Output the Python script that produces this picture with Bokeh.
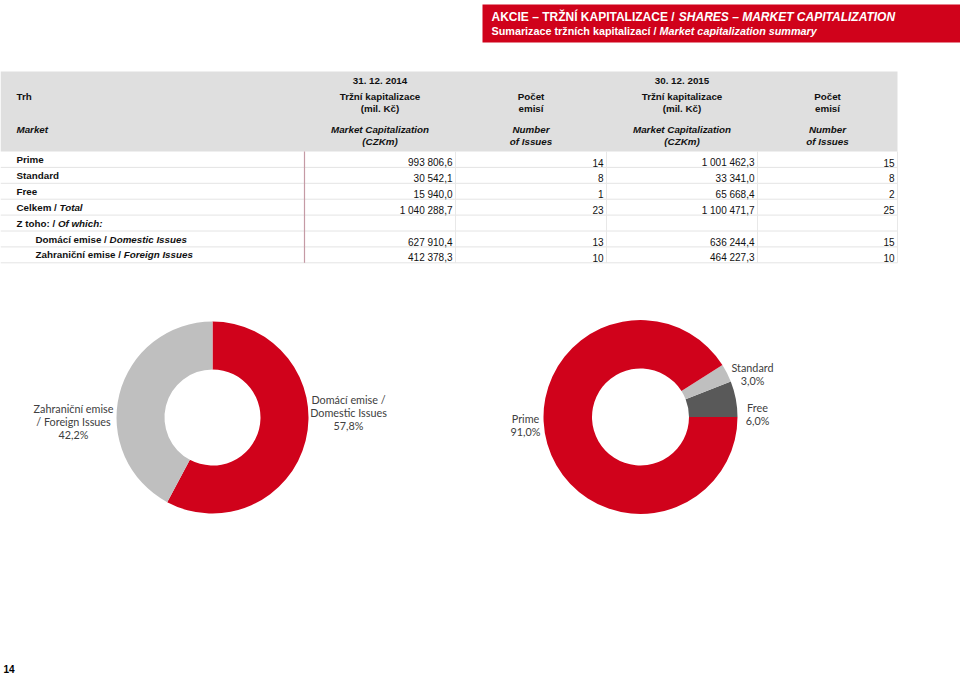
import math
import unicodedata
from bokeh.plotting import figure
from bokeh.models import Range1d, ColumnDataSource
from bokeh.core.properties import value
from bokeh.embed import file_html
from bokeh.resources import INLINE

# ---------------- data ----------------
title_main = "AKCIE – TRŽNÍ KAPITALIZACE / "
title_it = "SHARES – MARKET CAPITALIZATION"
sub_main = "Sumarizace tržních kapitalizací / "
sub_it = "Market capitalization summary"

dates = ["31. 12. 2014", "30. 12. 2015"]
hdr_cap_cz = ["Tržní kapitalizace", "(mil. Kč)"]
hdr_num_cz = ["Počet", "emisí"]
hdr_cap_en = ["Market Capitalization", "(CZKm)"]
hdr_num_en = ["Number", "of Issues"]
hdr_market_cz = "Trh"
hdr_market_en = "Market"

row_main = ["Prime", "Standard", "Free", "Celkem / ", "Z toho: / ",
            "Domácí emise / ", "Zahraniční emise / "]
row_it = ["", "", "", "Total", "Of which:", "Domestic Issues", "Foreign Issues"]
row_indent = [0, 0, 0, 0, 0, 1, 1]

cap_2014 = [993806.6, 30542.1, 15940.0, 1040288.7, None, 627910.4, 412378.3]
num_2014 = [14, 8, 1, 23, None, 13, 10]
cap_2015 = [1001462.3, 33341.0, 65668.4, 1100471.7, None, 636244.4, 464227.3]
num_2015 = [15, 8, 2, 25, None, 15, 10]

donut1_names = ["Domácí emise /\nDomestic Issues", "Zahraniční emise\n/ Foreign Issues"]
donut1_values = [636244.4, 464227.3]
donut2_names = ["Free", "Standard", "Prime"]
donut2_values = [65668.4, 33341.0, 1001462.3]

page_no = "14"

# ---------------- style ----------------
RED = "#d0021b"
LGRAY = "#bfbfbf"
DGRAY = "#595959"
BAND = "#dfdfdf"
FONT = value("Liberation Sans")
DFONT = value("Lato")

# Arial/Liberation Sans Bold advance widths (1/1000 em)
_AW = {" ": 278, "/": 278, ":": 333, "–": 556, ".": 278, ",": 278,
       "A": 722, "C": 722, "D": 722, "E": 667, "I": 278, "K": 722, "L": 611,
       "N": 722, "P": 667, "R": 722, "S": 667, "T": 611, "Z": 611, "H": 722,
       "M": 833, "O": 778, "F": 611, "U": 722, "G": 778, "B": 722,
       "a": 556, "c": 556, "e": 556, "h": 611, "i": 278, "k": 556, "l": 278,
       "m": 889, "n": 611, "o": 611, "p": 611, "r": 389, "s": 556, "t": 333,
       "u": 611, "z": 500, "y": 556, "w": 778, "d": 611, "b": 611, "g": 611}


def tw(s, size):
    tot = 0
    for ch in s:
        base = unicodedata.normalize("NFD", ch)[0]
        tot += _AW.get(base, 556)
    return tot * size / 1000.0


def fmt_cap(v):
    if v is None:
        return ""
    return f"{v:,.1f}".replace(",", " ").replace(".", ",")


def fmt_num(v):
    return "" if v is None else str(v)


def Y(v):
    return [-a for a in v] if isinstance(v, list) else -v


W, H = 960, 676
p = figure(width=W, height=H, x_range=Range1d(0, W), y_range=Range1d(-H, 0),
           output_backend="svg", toolbar_location=None, x_axis_type=None, y_axis_type=None,
           min_border=0, outline_line_color=None, background_fill_color="white")
p.xgrid.visible = False
p.ygrid.visible = False

# ---------------- red header ----------------
p.quad(left=[482], right=[962], top=Y([4]), bottom=Y([42]), fill_color=RED, line_color=None)
tx = 491
ts = 12
p.text(x=[tx], y=Y([16]), text=[title_main], text_font=FONT, text_font_size=value(f"{ts}px"),
       text_font_style="bold", text_color="white", text_baseline="middle", text_align="left")
p.text(x=[tx + tw(title_main, ts)], y=Y([16]), text=[title_it], text_font=FONT,
       text_font_size=value(f"{ts}px"), text_font_style="bold italic", text_color="white",
       text_baseline="middle", text_align="left")
ss = 10.8
p.text(x=[tx], y=Y([30]), text=[sub_main], text_font=FONT, text_font_size=value(f"{ss}px"),
       text_font_style="bold", text_color="white", text_baseline="middle", text_align="left")
p.text(x=[tx + tw(sub_main, ss)], y=Y([30]), text=[sub_it], text_font=FONT,
       text_font_size=value(f"{ss}px"), text_font_style="bold italic", text_color="white",
       text_baseline="middle", text_align="left")

# ---------------- table ----------------
col_edges = [304, 455, 606, 757, 897]
band_top, band_bot = 71, 151
p.quad(left=[0], right=[col_edges[-1]], top=Y([band_top]), bottom=Y([band_bot]),
       fill_color=BAND, line_color=None)

centers = [(col_edges[i] + col_edges[i + 1]) / 2 for i in range(4)]
hs = 9.8
hdr_x, hdr_y, hdr_t = [], [], []
for k, d in enumerate(dates):
    cc = centers[2 * k]
    cn = centers[2 * k + 1]
    hdr_x += [cc, cc, cc, cn, cn]
    hdr_y += [80, 96, 108, 96, 108]
    hdr_t += [d, hdr_cap_cz[0], hdr_cap_cz[1], hdr_num_cz[0], hdr_num_cz[1]]
p.text(x=hdr_x, y=Y(hdr_y), text=hdr_t, text_font=FONT, text_font_size=value(f"{hs}px"),
       text_font_style="bold", text_color="#111111", text_align="center", text_baseline="middle")
en_x, en_y, en_t = [], [], []
for k in range(2):
    cc = centers[2 * k]
    cn = centers[2 * k + 1]
    en_x += [cc, cc, cn, cn]
    en_y += [129, 141, 129, 141]
    en_t += [hdr_cap_en[0], hdr_cap_en[1], hdr_num_en[0], hdr_num_en[1]]
p.text(x=en_x, y=Y(en_y), text=en_t, text_font=FONT, text_font_size=value(f"{hs}px"),
       text_font_style="bold italic", text_color="#111111", text_align="center",
       text_baseline="middle")
p.text(x=[16], y=Y([96]), text=[hdr_market_cz], text_font=FONT, text_font_size=value(f"{hs}px"),
       text_font_style="bold", text_color="#111111", text_baseline="middle")
p.text(x=[16], y=Y([129]), text=[hdr_market_en], text_font=FONT, text_font_size=value(f"{hs}px"),
       text_font_style="bold italic", text_color="#111111", text_baseline="middle")

# row grid
n = len(row_main)
row_h = 15.9
row_tops = [band_bot + row_h * i for i in range(n + 1)]
p.segment(x0=[0] * n, x1=[col_edges[-1]] * n, y0=Y(row_tops[1:]), y1=Y(row_tops[1:]),
          line_color="#e4e4e4", line_width=1)
p.segment(x0=col_edges[1:], x1=col_edges[1:], y0=[-band_bot] * 4, y1=[-row_tops[-1]] * 4,
          line_color="#e8e8e8", line_width=1)
p.segment(x0=[col_edges[0]], x1=[col_edges[0]], y0=[-band_bot], y1=[-row_tops[-1]],
          line_color="#c59aa5", line_width=1.2)

ls = 9.8
lab_x = [16 + 19 * ind for ind in row_indent]
lab_y = [row_tops[i] + 8 for i in range(n)]
p.text(x=lab_x, y=Y(lab_y), text=row_main, text_font=FONT, text_font_size=value(f"{ls}px"),
       text_font_style="bold", text_color="#111111", text_baseline="middle")
it_x = [lab_x[i] + tw(row_main[i], ls) for i in range(n)]
p.text(x=it_x, y=Y(lab_y), text=row_it, text_font=FONT, text_font_size=value(f"{ls}px"),
       text_font_style="bold italic", text_color="#111111", text_baseline="middle")

vs = 10
val_y = [row_tops[i] + 11 for i in range(n)]
cols = [[fmt_cap(v) for v in cap_2014], [fmt_num(v) for v in num_2014],
        [fmt_cap(v) for v in cap_2015], [fmt_num(v) for v in num_2015]]
for c in range(4):
    src = ColumnDataSource(dict(x=[col_edges[c + 1] - 3] * n, y=Y(val_y), t=cols[c]))
    p.text(x="x", y="y", text="t", source=src, text_font=FONT, text_font_size=value(f"{vs}px"),
           text_color="#111111", text_align="right", text_baseline="middle")


# ---------------- donuts ----------------
def pct(v, tot):
    return f"{100 * v / tot:.1f}".replace(".", ",") + "%"


# donut 1: starts at 12 o'clock, clockwise
t1 = sum(donut1_values)
cx1, cy1, r1o, r1i = 212, 417, 96, 48
starts, ends = [], []
a = math.pi / 2
for v in donut1_values:
    sweep = 2 * math.pi * v / t1
    starts.append(a - sweep)
    ends.append(a)
    a -= sweep
p.annular_wedge(x=[cx1] * 2, y=[-cy1] * 2, inner_radius=r1i, outer_radius=r1o,
                start_angle=starts, end_angle=ends, fill_color=[RED, LGRAY], line_color=None)

# donut 2: starts at 3 o'clock, anticlockwise
t2 = sum(donut2_values)
cx2, cy2, r2o, r2i = 640, 416.5, 97, 48.5
starts, ends = [], []
a = 0.0
for v in donut2_values:
    sweep = 2 * math.pi * v / t2
    starts.append(a)
    ends.append(a + sweep)
    a += sweep
p.annular_wedge(x=[cx2] * 3, y=[-cy2] * 3, inner_radius=r2i, outer_radius=r2o,
                start_angle=starts, end_angle=ends, fill_color=[DGRAY, LGRAY, RED],
                line_color=None)

# donut labels
dl_x, dl_y, dl_t = [], [], []
d1_pos = [(348, 399), (73, 408)]
for (nm, v), (x0, y0) in zip(zip(donut1_names, donut1_values), d1_pos):
    lines = nm.split("\n") + [pct(v, t1)]
    for j, ln in enumerate(lines):
        dl_x.append(x0)
        dl_y.append(y0 + 12.8 * j)
        dl_t.append(ln)
d2_pos = [(757, 407), (752, 367), (525, 418)]
for (nm, v), (x0, y0) in zip(zip(donut2_names, donut2_values), d2_pos):
    lines = [nm, pct(v, t2)]
    for j, ln in enumerate(lines):
        dl_x.append(x0)
        dl_y.append(y0 + 12.8 * j)
        dl_t.append(ln)
p.text(x=dl_x, y=Y(dl_y), text=dl_t, text_font=DFONT, text_font_size=value("10.8px"),
       text_color="#404040", text_align="center", text_baseline="middle")

# page number
p.text(x=[3], y=[-668], text=[page_no], text_font=FONT, text_font_size=value("10px"),
       text_font_style="bold", text_color="black", text_baseline="middle")

open("out.html", "w").write(file_html(p, INLINE))
